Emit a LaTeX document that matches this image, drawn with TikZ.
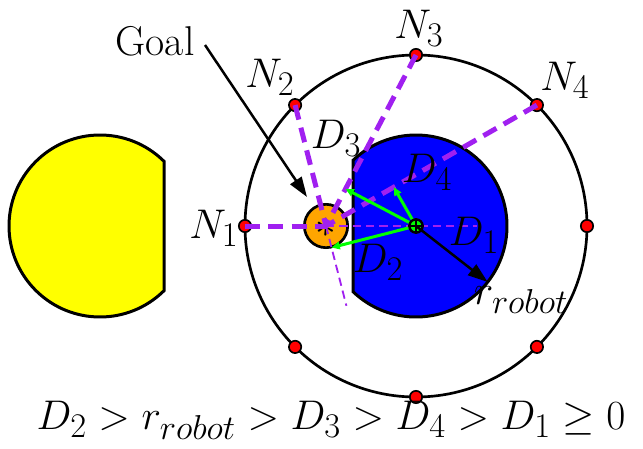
\documentclass[tikz,border=0pt]{standalone}
\usepackage{amsmath,amssymb}
\usetikzlibrary{arrows.meta,positioning,calc}
\definecolor{linepurple}{RGB}{160,32,240}
\definecolor{goalorange}{RGB}{255,165,0}
\definecolor{obstyellow}{RGB}{255,255,0}

\begin{document}
\begin{tikzpicture}[
x=0.6pt, y=0.6pt,
lbl/.style={font=\fontsize{28}{32}\selectfont, inner sep=0pt},
obstacle/.style={draw, line width=1.8pt},
ring/.style={draw, line width=1.6pt},
npoint/.style={circle, draw, fill=red, line width=1pt, minimum size=7.4pt, inner sep=0pt},
goalpt/.style={circle, draw, fill=goalorange, line width=1.6pt, minimum size=26pt, inner sep=0pt},
thickdash/.style={linepurple, line width=3pt, dash pattern=on 9pt off 5pt},
thindash/.style={linepurple, line width=1.1pt, dash pattern=on 5pt off 3pt},
perp/.style={-{Triangle[length=5pt,width=4.5pt]}, green, line width=1.8pt},
bigarrow/.style={-{Triangle[length=12pt,width=8pt]}, line width=1.5pt}
]
\useasboundingbox (0,0) rectangle (643,448);

\coordinate (robot) at (416,222);
\coordinate (goal) at (326,222);
\coordinate (obst) at (100,222);

% obstacles
\draw[obstacle, fill=obstyellow] ($(obst)+(45.3:91)$) arc[start angle=45.3, end angle=314.7, radius=91] -- cycle;
\draw[ring] (robot) circle[radius=171];
\draw[obstacle, fill=blue] ($(robot)+(226.2:91)$) arc[start angle=226.2, end angle=493.8, radius=91] -- cycle;

% goal
\node[goalpt] (G) at (goal) {};
\node[font=\fontsize{24}{24}\selectfont, inner sep=0pt] (star) at ($(goal)+(0,-2)$) {$\ast$};

% points on the ring
\foreach \a/\n in {180/1,135/2,90/3,45/4}
  \node[npoint] (N\n) at ($(robot)+(\a:171)$) {};
\foreach \a in {0,225,270,315}
  \node[npoint] (P\a) at ($(robot)+(\a:171)$) {};

% lines to the goal
\foreach \n in {1,...,4}
  \draw[thickdash] (N\n.center) -- (goal);
\coordinate (d1end) at (477,222);
\coordinate (d2end) at ($(goal)!-0.66!(N2.center)$);
\draw[thindash] (goal) -- (d1end);
\draw[thindash] (goal) -- (d2end);

% distances
\foreach \n in {2,3,4}
  \draw[perp] (robot) -- ($(goal)!(robot)!(N\n.center)$);
\node[circle, draw, fill=green, line width=1.4pt, minimum size=8pt, inner sep=0pt] (R) at (robot) {};
\draw[line width=1.4pt] (R.north) -- (R.south) (R.west) -- (R.east);
\draw[bigarrow] (robot) -- ($(robot)+(-38:91)$);

% labels
\node[lbl, font=\fontsize{25}{30}\selectfont] (goaltxt) at (155,407) {Goal};
\coordinate (gstart) at (205,403);
\coordinate (gtip) at (307,251);
\draw[bigarrow] (gstart) -- (gtip);
\node[lbl] (n1) at (214,220) {$N_1$};
\node[lbl] (n2) at (270,371) {$N_2$};
\node[lbl] (n3) at (419,420) {$N_3$};
\node[lbl] (n4) at (565,368) {$N_4$};
\node[lbl] (d1) at (474,213) {$D_1$};
\node[lbl] (d2) at (378,186) {$D_2$};
\node[lbl] (d3) at (336,310) {$D_3$};
\node[lbl] (d4) at (427,276) {$D_4$};
\node[lbl] (rr) at (521,148) {$r_{robot}$};
\node[lbl, font=\fontsize{29}{33}\selectfont] (rel) at (331,28) {$D_2 > r_{robot} > D_3 > D_4 > D_1 \geq 0$};
\end{tikzpicture}
\end{document}
